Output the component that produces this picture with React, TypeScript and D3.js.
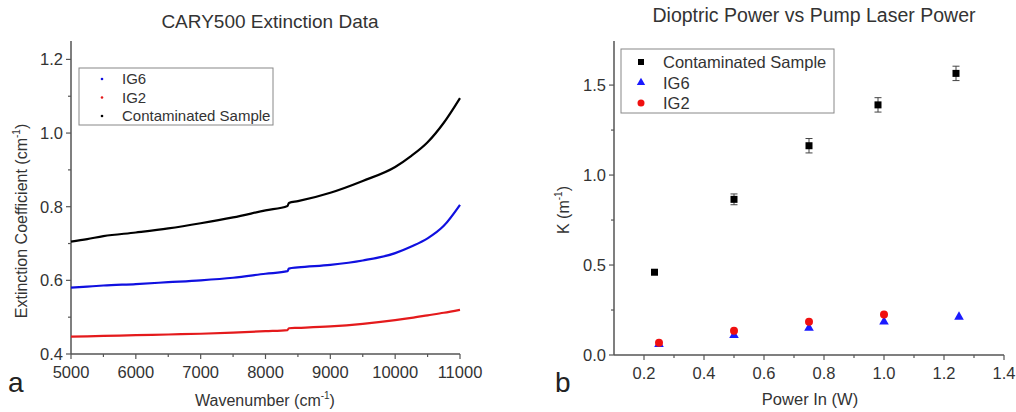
import React, { useEffect, useRef } from "react";
import * as d3 from "d3";

// left panel: extinction spectra
const wavenumbers = [5000, 5250, 5500, 6000, 6500, 7000, 7500, 8000, 8340, 8360, 8500, 9000, 9500, 10000, 10250, 10500, 10750, 11000];
const contaminatedSpec = [0.705, 0.712, 0.72, 0.73, 0.741, 0.755, 0.771, 0.79, 0.802, 0.81, 0.815, 0.838, 0.87, 0.908, 0.938, 0.975, 1.028, 1.095];
const ig6Spec = [0.58, 0.583, 0.586, 0.59, 0.595, 0.6, 0.607, 0.618, 0.625, 0.632, 0.635, 0.642, 0.654, 0.674, 0.692, 0.714, 0.748, 0.805];
const ig2Spec = [0.447, 0.448, 0.449, 0.451, 0.453, 0.455, 0.458, 0.462, 0.465, 0.47, 0.471, 0.475, 0.482, 0.492, 0.498, 0.505, 0.512, 0.52];
const specTicksX = [5000, 6000, 7000, 8000, 9000, 10000, 11000];
const specTicksY = [0.4, 0.6, 0.8, 1.0, 1.2];

// right panel: K vs pump power
const contPower = [0.235, 0.5, 0.75, 0.98, 1.24];
const contK = [0.46, 0.865, 1.163, 1.39, 1.565];
const contErr = [0.01, 0.03, 0.04, 0.04, 0.04];
const ig6Power = [0.25, 0.5, 0.75, 1.0, 1.25];
const ig6K = [0.06, 0.11, 0.15, 0.185, 0.212];
const ig2Power = [0.25, 0.5, 0.75, 1.0];
const ig2K = [0.068, 0.135, 0.185, 0.225];
const powerTicks = [0.2, 0.4, 0.6, 0.8, 1.0, 1.2, 1.4];
const kTicks = [0.0, 0.5, 1.0, 1.5];

const FONT = "'Liberation Sans', Arial, sans-serif";
const TEXT = "#333";
const AXIS = "#555";

const App = () => {
  const svgRef = useRef<SVGSVGElement>(null);

  useEffect(() => {
    const svg = d3.select(svgRef.current);
    svg.selectAll("*").remove();
    svg.style("font-family", FONT);

    const drawAxes = (
      x: any, y: any, xTicks: number[], yTicks: number[],
      xMinor: number[], yMinor: number[], fmtX: (d: number) => string, fmtY: (d: number) => string
    ) => {
      const g = svg.append("g");
      const [x0, x1] = x.range();
      const [y0, y1] = y.range();
      g.append("line").attr("x1", x0).attr("x2", x1).attr("y1", y0).attr("y2", y0)
        .attr("stroke", AXIS).attr("stroke-width", 1.5);
      g.append("line").attr("x1", x0).attr("x2", x0).attr("y1", y0).attr("y2", y1)
        .attr("stroke", AXIS).attr("stroke-width", 1.5);
      xTicks.forEach((t) => {
        g.append("line").attr("x1", x(t)).attr("x2", x(t)).attr("y1", y0).attr("y2", y0 + 5)
          .attr("stroke", AXIS).attr("stroke-width", 1.2);
        g.append("text").attr("x", x(t)).attr("y", y0 + 24).attr("text-anchor", "middle")
          .attr("font-size", 16.5).attr("fill", TEXT).text(fmtX(t));
      });
      xMinor.forEach((t) => {
        g.append("line").attr("x1", x(t)).attr("x2", x(t)).attr("y1", y0).attr("y2", y0 + 3)
          .attr("stroke", AXIS).attr("stroke-width", 1.2);
      });
      yTicks.forEach((t) => {
        g.append("line").attr("x1", x0 - 5).attr("x2", x0).attr("y1", y(t)).attr("y2", y(t))
          .attr("stroke", AXIS).attr("stroke-width", 1.2);
        g.append("text").attr("x", x0 - 8).attr("y", y(t) + 6).attr("text-anchor", "end")
          .attr("font-size", 16.5).attr("fill", TEXT).text(fmtY(t));
      });
      yMinor.forEach((t) => {
        g.append("line").attr("x1", x0 - 3).attr("x2", x0).attr("y1", y(t)).attr("y2", y(t))
          .attr("stroke", AXIS).attr("stroke-width", 1.2);
      });
    };

    const supLabel = (g: any, main: string, unit: string) => {
      g.append("tspan").text(main + " (" + unit);
      g.append("tspan").attr("font-size", 10).attr("dy", -7).text("-1");
      g.append("tspan").attr("dy", 7).text(")");
    };

    // ---------- panel a ----------
    const xA = d3.scaleLinear().domain([5000, 11000]).range([71, 460]);
    const yA = d3.scaleLinear().domain([0.4, 1.25]).range([354, 41]);
    drawAxes(xA, yA, specTicksX, specTicksY,
      d3.range(5500, 11000, 1000), [0.5, 0.7, 0.9, 1.1],
      (d) => String(d), (d) => d.toFixed(1));

    const line = d3.line<number>().x((d, i) => xA(wavenumbers[i])).y((d) => yA(d)).curve(d3.curveMonotoneX);
    [[ig2Spec, "#e41a1c"], [ig6Spec, "#1010e0"], [contaminatedSpec, "#000"]].forEach(([vals, c]: any) => {
      svg.append("path").attr("d", line(vals)).attr("fill", "none").attr("stroke", c).attr("stroke-width", 2.2);
    });

    svg.append("text").attr("x", 270).attr("y", 28).attr("text-anchor", "middle")
      .attr("font-size", 19).attr("fill", TEXT).text("CARY500 Extinction Data");
    const ylA = svg.append("text").attr("transform", "translate(27,221) rotate(-90)")
      .attr("text-anchor", "middle").attr("font-size", 16).attr("fill", TEXT);
    supLabel(ylA, "Extinction Coefficient", "cm");
    const xlA = svg.append("text").attr("x", 265).attr("y", 406).attr("text-anchor", "middle")
      .attr("font-size", 16).attr("fill", TEXT);
    supLabel(xlA, "Wavenumber", "cm");
    svg.append("text").attr("x", 8).attr("y", 392).attr("font-size", 28).attr("fill", "#222").text("a");

    const legA = svg.append("g");
    legA.append("rect").attr("x", 79).attr("y", 68).attr("width", 194).attr("height", 57)
      .attr("fill", "#fff").attr("stroke", "#888").attr("stroke-width", 1);
    [["IG6", "#1010e0"], ["IG2", "#e41a1c"], ["Contaminated Sample", "#000"]].forEach(([name, c], i) => {
      const yy = 79 + i * 18.5;
      legA.append("circle").attr("cx", 102).attr("cy", yy).attr("r", 1.3).attr("fill", c);
      legA.append("text").attr("x", 122).attr("y", yy + 5).attr("font-size", 15).attr("fill", TEXT).text(name);
    });

    // ---------- panel b ----------
    const xB = d3.scaleLinear().domain([0.1, 1.4]).range([614, 1004]);
    const yB = d3.scaleLinear().domain([0, 1.745]).range([355, 41]);
    drawAxes(xB, yB, powerTicks, kTicks,
      [0.3, 0.5, 0.7, 0.9, 1.1, 1.3], [0.25, 0.75, 1.25],
      (d) => d.toFixed(1), (d) => d.toFixed(1));

    // error bars + squares
    contPower.forEach((p, i) => {
      const cx = xB(p);
      const e = contErr[i];
      if (e > 0.015) {
        const g = svg.append("g").attr("stroke", "#444").attr("stroke-width", 1);
        g.append("line").attr("x1", cx).attr("x2", cx).attr("y1", yB(contK[i] + e)).attr("y2", yB(contK[i] - e));
        [contK[i] + e, contK[i] - e].forEach((v) => {
          g.append("line").attr("x1", cx - 3.5).attr("x2", cx + 3.5).attr("y1", yB(v)).attr("y2", yB(v));
        });
      }
      svg.append("rect").attr("x", cx - 3.5).attr("y", yB(contK[i]) - 3.5).attr("width", 7).attr("height", 7).attr("fill", "#000");
    });
    const tri = d3.symbol().type(d3.symbolTriangle).size(40);
    ig6Power.forEach((p, i) => {
      svg.append("path").attr("d", tri()).attr("transform", `translate(${xB(p)},${yB(ig6K[i])})`).attr("fill", "#1a1aff");
    });
    ig2Power.forEach((p, i) => {
      svg.append("circle").attr("cx", xB(p)).attr("cy", yB(ig2K[i])).attr("r", 4).attr("fill", "#f01010");
    });

    svg.append("text").attr("x", 814).attr("y", 22).attr("text-anchor", "middle")
      .attr("font-size", 19.5).attr("fill", TEXT).text("Dioptric Power vs Pump Laser Power");
    const ylB = svg.append("text").attr("transform", "translate(569,210) rotate(-90)")
      .attr("text-anchor", "middle").attr("font-size", 16).attr("fill", TEXT);
    supLabel(ylB, "K", "m");
    svg.append("text").attr("x", 810).attr("y", 405).attr("text-anchor", "middle")
      .attr("font-size", 16.5).attr("fill", TEXT).text("Power In (W)");
    svg.append("text").attr("x", 555).attr("y", 392).attr("font-size", 28).attr("fill", "#222").text("b");

    const legB = svg.append("g");
    legB.append("rect").attr("x", 621).attr("y", 49).attr("width", 213).attr("height", 64)
      .attr("fill", "#fff").attr("stroke", "#888").attr("stroke-width", 1);
    const legItems = ["Contaminated Sample", "IG6", "IG2"];
    legItems.forEach((name, i) => {
      const yy = 62 + i * 20.5;
      if (i === 0) legB.append("rect").attr("x", 638).attr("y", yy - 3).attr("width", 6).attr("height", 6).attr("fill", "#000");
      if (i === 1) legB.append("path").attr("d", d3.symbol().type(d3.symbolTriangle).size(30)()).attr("transform", `translate(641,${yy})`).attr("fill", "#1a1aff");
      if (i === 2) legB.append("circle").attr("cx", 641).attr("cy", yy).attr("r", 3.5).attr("fill", "#f01010");
      legB.append("text").attr("x", 663).attr("y", yy + 6).attr("font-size", 16.5).attr("fill", TEXT).text(name);
    });
  }, []);

  return (
    <svg ref={svgRef} width={1016} height={412}
      style={{ position: "absolute", left: 0, top: 0, background: "#fff" }} />
  );
};

export default App;
